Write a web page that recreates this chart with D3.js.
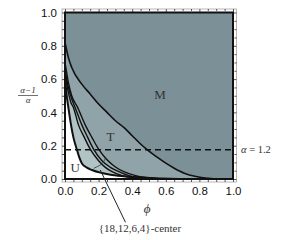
<!DOCTYPE html>
<html>
<head>
<meta charset="utf-8">
<script src="https://cdn.jsdelivr.net/npm/d3@7"></script>
<style>
  body { margin: 0; background: #fff; }
  .tick text { font-family: "Liberation Sans", Arial, sans-serif; font-size: 11.5px; fill: #111; }
  .lbl { font-family: "Liberation Serif", "DejaVu Serif", serif; fill: #333; }
</style>
</head>
<body>
<div id="chart"></div>
<script>
// curves as [phi, (alpha-1)/alpha]
const outerCurve = [[0, 0.82], [0.02, 0.73], [0.04, 0.67], [0.10, 0.57], [0.15, 0.51], [0.20, 0.45],
  [0.25, 0.40], [0.30, 0.35], [0.35, 0.31], [0.40, 0.26], [0.45, 0.21], [0.49, 0.175], [0.55, 0.13],
  [0.60, 0.095], [0.65, 0.065], [0.71, 0.035], [0.78, 0.015], [0.85, 0.004], [0.90, 0]];
const groupCurve1 = [[0, 0.70], [0.02, 0.58], [0.04, 0.50], [0.075, 0.43], [0.12, 0.325], [0.16, 0.25],
  [0.20, 0.179], [0.25, 0.115], [0.30, 0.072], [0.35, 0.044], [0.42, 0.02], [0.48, 0.009], [0.54, 0.003], [0.60, 0]];
const groupCurve2 = [[0, 0.66], [0.02, 0.55], [0.04, 0.48], [0.06, 0.43], [0.10, 0.325], [0.135, 0.25],
  [0.17, 0.179], [0.22, 0.11], [0.27, 0.07], [0.32, 0.044], [0.38, 0.02], [0.44, 0.008], [0.50, 0.002], [0.56, 0]];
const groupCurve3 = [[0, 0.63], [0.02, 0.52], [0.035, 0.46], [0.05, 0.43], [0.08, 0.325], [0.115, 0.25],
  [0.15, 0.179], [0.20, 0.11], [0.24, 0.07], [0.28, 0.044], [0.34, 0.02], [0.40, 0.008], [0.46, 0.002], [0.52, 0]];
const innerCurve = [[0, 0.62], [0.008, 0.52], [0.02, 0.43], [0.035, 0.33], [0.05, 0.25], [0.07, 0.179],
  [0.085, 0.13], [0.10, 0.095], [0.13, 0.068], [0.16, 0.054], [0.22, 0.036], [0.28, 0.024], [0.38, 0.014],
  [0.48, 0.008], [0.58, 0.003], [0.68, 0]];
const markArc = [[0.171, 0.064], [0.21, 0.084], [0.23, 0.104], [0.24, 0.125]];
const pointerLine = [[0.21, 0.054], [0.36, -0.26]];
const alphaLine = 0.175;
const tickValues = [0, 0.2, 0.4, 0.6, 0.8, 1.0];
const minorTicks = d3.range(0, 1.0001, 0.05).filter(v => Math.round(v * 100) % 20 !== 0);
const regionLabels = [["M", 0.565, 0.48], ["T", 0.27, 0.23], ["U", 0.06, 0.04]];

const w = 301, h = 240;
const x = d3.scaleLinear().domain([0, 1]).range([65, 233]);
const y = d3.scaleLinear().domain([0, 1]).range([179, 12.5]);
const frame = { left: 62, right: 236.5, top: 9, bottom: 182 };

const svg = d3.select("#chart").append("svg").attr("width", w).attr("height", h);

const area = d3.area().x(d => x(d[0])).y0(y(0)).y1(d => y(d[1])).curve(d3.curveMonotoneX);
const line = d3.line().x(d => x(d[0])).y(d => y(d[1])).curve(d3.curveMonotoneX);

// regions, painted from the outside in
svg.append("rect")
  .attr("x", x(0)).attr("y", y(1))
  .attr("width", x(1) - x(0)).attr("height", y(0) - y(1))
  .attr("fill", "#7b9197");

const fills = [[outerCurve, "#8fa3a8"], [groupCurve1, "#9aadb1"], [groupCurve2, "#a5b7ba"],
  [groupCurve3, "#b2c3c5"], [innerCurve, "#ffffff"]];
fills.forEach(f => {
  svg.append("path").datum(f[0]).attr("d", area).attr("fill", f[1]);
});

// frame with inward ticks
svg.append("rect")
  .attr("x", frame.left).attr("y", frame.top)
  .attr("width", frame.right - frame.left).attr("height", frame.bottom - frame.top)
  .attr("fill", "none").attr("stroke", "#b8b8b8").attr("stroke-width", 1);

function frameAxis(axis, tr, size, labels) {
  const g = svg.append("g").attr("transform", tr)
    .call(axis.tickSize(size).tickFormat(labels ? d3.format(".1f") : ""));
  g.select(".domain").remove();
  g.selectAll(".tick line").attr("stroke", "#555");
  return g;
}
frameAxis(d3.axisBottom(x).tickValues(tickValues).tickPadding(5), `translate(0,${frame.bottom})`, -4, true);
frameAxis(d3.axisLeft(y).tickValues(tickValues).tickPadding(5), `translate(${frame.left},0)`, -4, true);
frameAxis(d3.axisTop(x).tickValues(tickValues), `translate(0,${frame.top})`, -4, false);
frameAxis(d3.axisRight(y).tickValues(tickValues), `translate(${frame.right},0)`, -4, false);
frameAxis(d3.axisBottom(x).tickValues(minorTicks), `translate(0,${frame.bottom})`, -2, false);
frameAxis(d3.axisLeft(y).tickValues(minorTicks), `translate(${frame.left},0)`, -2, false);
frameAxis(d3.axisTop(x).tickValues(minorTicks), `translate(0,${frame.top})`, -2, false);
frameAxis(d3.axisRight(y).tickValues(minorTicks), `translate(${frame.right},0)`, -2, false);

// curves
[[outerCurve, 1.6], [groupCurve1, 1.4], [groupCurve2, 1.4], [groupCurve3, 1.4], [innerCurve, 2]].forEach(c => {
  svg.append("path").datum(c[0]).attr("d", line)
    .attr("fill", "none").attr("stroke", "#111").attr("stroke-width", c[1]);
});

// dashed alpha = 1.2 line
svg.append("line")
  .attr("x1", x(0)).attr("x2", x(1)).attr("y1", y(alphaLine)).attr("y2", y(alphaLine))
  .attr("stroke", "#111").attr("stroke-width", 1.5).attr("stroke-dasharray", "6,4");

// boundary lines of the region
svg.append("rect")
  .attr("x", x(0)).attr("y", y(1))
  .attr("width", x(1) - x(0)).attr("height", y(0) - y(1))
  .attr("fill", "none").attr("stroke", "#111").attr("stroke-width", 2);

// small marker arc and pointer
svg.append("path").datum(markArc)
  .attr("d", d3.line().x(d => x(d[0])).y(d => y(d[1])).curve(d3.curveNatural))
  .attr("fill", "none").attr("stroke", "#333").attr("stroke-width", 0.8);
svg.append("path").datum(pointerLine)
  .attr("d", d3.line().x(d => x(d[0])).y(d => y(d[1])))
  .attr("fill", "none").attr("stroke", "#222").attr("stroke-width", 1);

// labels
regionLabels.forEach(l => {
  svg.append("text").attr("class", "lbl")
    .attr("x", x(l[1])).attr("y", y(l[2]))
    .attr("text-anchor", "middle").attr("font-size", 13)
    .text(l[0]);
});

svg.append("text").attr("class", "lbl")
  .attr("x", 241).attr("y", y(alphaLine) + 3.5)
  .attr("font-size", 10.5).attr("font-style", "italic")
  .text("α")
  .append("tspan").attr("font-style", "normal").text(" = 1.2");

svg.append("text").attr("class", "lbl")
  .attr("x", 140).attr("y", 232)
  .attr("text-anchor", "middle").attr("font-size", 11)
  .text("{18,12,6,4}-center");

// axis titles
svg.append("text").attr("class", "lbl")
  .attr("x", 147).attr("y", 213)
  .attr("text-anchor", "middle").attr("font-size", 13).attr("font-style", "italic")
  .text("ϕ");

const yt = svg.append("g").attr("transform", "translate(28,0)");
yt.append("text").attr("class", "lbl")
  .attr("y", 93).attr("text-anchor", "middle").attr("font-size", 9).attr("font-style", "italic")
  .text("α−1");
yt.append("line").attr("x1", -10).attr("x2", 10).attr("y1", 95.5).attr("y2", 95.5)
  .attr("stroke", "#333").attr("stroke-width", 0.7);
yt.append("text").attr("class", "lbl")
  .attr("y", 103).attr("text-anchor", "middle").attr("font-size", 9).attr("font-style", "italic")
  .text("α");
</script>
</body>
</html>
